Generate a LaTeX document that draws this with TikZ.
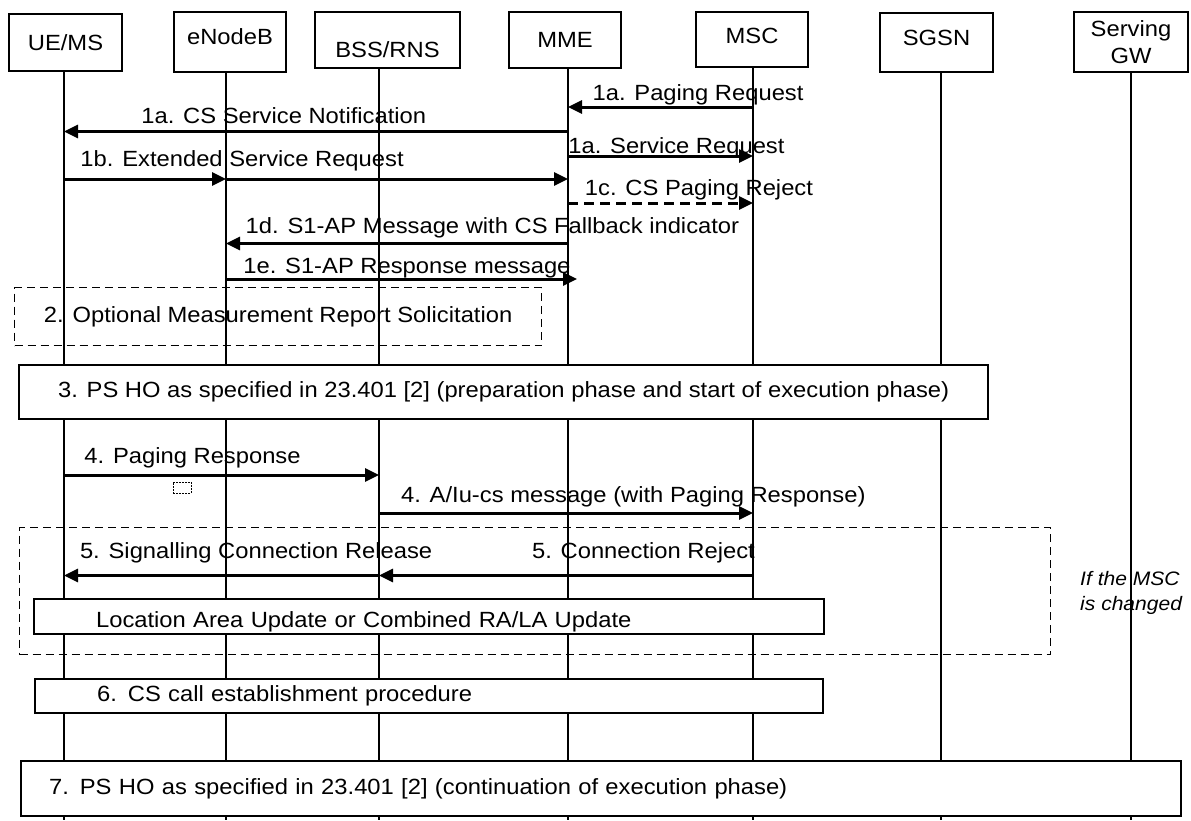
\documentclass[tikz,border=0pt]{standalone}
\usepackage{fontspec}
\setmainfont[FakeStretch=1.08]{Liberation Sans}
\usetikzlibrary{arrows.meta}
\newcommand\vshift[2]{\raisebox{#1}[\height][\depth]{#2}}
\tikzset{
  entity/.style={draw, line width=1.5pt, inner sep=0pt},
  life/.style={line width=1.5pt},
  msg/.style={line width=3pt, -{Triangle[length=14pt,width=13pt]}},
  lbl/.style={anchor=base, inner sep=0pt},
  phase/.style={draw, fill=white, line width=2.2pt, anchor=north west, inner ysep=0pt},
  option/.style={draw, dash pattern=on 8pt off 5pt, line width=1.3pt, anchor=north west, inner ysep=0pt}
}
\begin{document}
\begin{tikzpicture}[x=1pt, y=-1pt, font=\fontsize{22}{27}\selectfont]
\useasboundingbox (0,0) rectangle (1191,820);
\node[entity, minimum width=113pt, minimum height=57pt] (ue) at (65.5,42.5) {UE/MS};
\node[entity, minimum width=112pt, minimum height=60pt] (enb) at (230,42) {\vshift{5pt}{eNodeB}};
\node[entity, minimum width=145pt, minimum height=56pt] (bss) at (387.5,40) {\vshift{-10pt}{BSS/RNS}};
\node[entity, minimum width=112pt, minimum height=56pt] (mme) at (565,40) {MME};
\node[entity, minimum width=112pt, minimum height=55pt] (msc) at (752,39.5) {\vshift{4pt}{MSC}};
\node[entity, minimum width=113pt, minimum height=59pt] (sgsn) at (936.5,42.5) {\vshift{5pt}{SGSN}};
\node[entity, minimum width=114pt, minimum height=60pt, align=center] (gw) at (1131,42) {Serving\\GW};
\coordinate (ue-b) at (64,820);
\coordinate (enb-b) at (226,820);
\coordinate (bss-b) at (379,820);
\coordinate (mme-b) at (568,820);
\coordinate (msc-b) at (753,820);
\coordinate (sgsn-b) at (941,820);
\coordinate (gw-b) at (1131,820);
\foreach \n in {ue,enb,bss,mme,msc,sgsn,gw}
  \draw[life] (\n-b |- \n.south) -- (\n-b);
\coordinate (r1) at (0,107);
\coordinate (r2) at (0,131.5);
\coordinate (r3) at (0,156);
\coordinate (r4) at (0,179);
\coordinate (r5) at (0,203);
\coordinate (r6) at (0,243.5);
\coordinate (r7) at (0,279);
\coordinate (r8) at (0,475);
\coordinate (r9) at (0,513);
\coordinate (r10) at (0,575.5);
\draw[msg] (msc-b |- r1) -- node[lbl, pos=0.297, yshift=7pt] (t1a) {1a. Paging Request} (mme-b |- r1);
\draw[msg] (mme-b |- r2) -- node[lbl, pos=0.564, yshift=8pt] (t1an) {1a. CS Service Notification} (ue-b |- r2);
\draw[msg] (mme-b |- r3) -- node[lbl, pos=0.586, yshift=3pt] (t1as) {1a. Service Request} (msc-b |- r3);
\draw[msg] (ue-b |- r4) -- (enb-b |- r4);
\draw[msg] (enb-b |- r4) -- node[lbl, pos=0.047, yshift=13pt] (t1b) {1b. Extended Service Request} (mme-b |- r4);
\draw[msg, dash pattern=on 10pt off 6pt] (mme-b |- r5) -- node[lbl, pos=0.708, yshift=8pt] (t1c) {1c. CS Paging Reject} (msc-b |- r5);
\draw[msg] (mme-b |- r6) -- node[lbl, pos=0.221, yshift=10pt] (t1d) {1d. S1-AP Message with CS Fallback indicator} (enb-b |- r6);
\draw[msg, shorten >=-9pt] (enb-b |- r7) -- node[lbl, pos=0.529, yshift=6pt] (t1e) {1e. S1-AP Response message} (mme-b |- r7);
\node[option, minimum width=527pt, minimum height=58pt] (meas) at (14,287) {2. Optional Measurement Report Solicitation};
\node[phase, minimum width=969pt, minimum height=54pt] (ps1) at (18,364) {3. PS HO as specified in 23.401 [2] (preparation phase and start of execution phase)};
\draw[msg] (ue-b |- r8) -- node[lbl, pos=0.408, yshift=12pt] (t4) {4. Paging Response} (bss-b |- r8);
\node[draw, dash pattern=on 2pt off 1pt, line width=0.6pt, minimum width=18pt, minimum height=11pt, inner sep=0pt] (mark) at (182,487.5) {};
\draw[msg] (bss-b |- r9) -- node[lbl, pos=0.680, yshift=11pt] (t4a) {4. A/Iu-cs message (with Paging Response)} (msc-b |- r9);
\node[option, minimum width=1031pt, minimum height=127pt] (chg) at (19,527) {};
\draw[msg] (msc-b |- r10) -- node[lbl, pos=0.293, yshift=17pt] (t5r) {5. Connection Reject} (bss-b |- r10);
\draw[msg] (bss-b |- r10) -- node[lbl, pos=0.390, yshift=17pt] (t5s) {5. Signalling Connection Release} (ue-b |- r10);
\node[phase, minimum height=35pt, text width=666pt, inner xsep=62pt, align=left] (lau) at (33,598) {\vshift{-5pt}{Location Area Update or Combined RA/LA Update}};
\node[phase, minimum height=34pt, text width=664pt, inner xsep=62pt, align=left] (cs) at (34,678) {6. CS call establishment procedure};
\node[phase, minimum height=55pt, text width=1104pt, inner xsep=28pt, align=left] (ps2) at (20,760) {7. PS HO as specified in 23.401 [2] (continuation of execution phase)};
\node[anchor=north west, inner sep=0pt, align=left, font=\itshape\fontsize{19.5}{25}\selectfont] (note) at (1080,571) {If the MSC\\is changed};
\end{tikzpicture}
\end{document}
